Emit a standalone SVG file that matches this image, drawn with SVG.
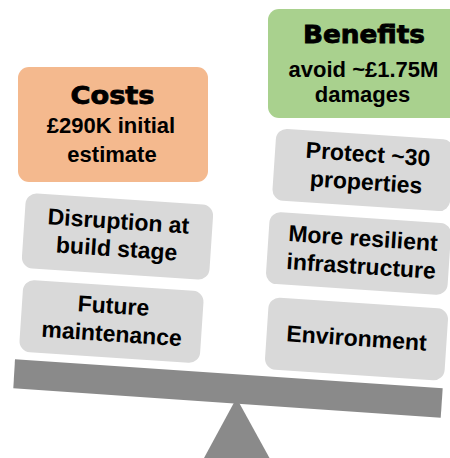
<svg xmlns="http://www.w3.org/2000/svg" width="450" height="458" viewBox="0 0 450 458">
  <style>
    .item { fill: #d9d9d9; }
    .t { font-family: "Liberation Sans", Arial, sans-serif; font-weight: bold; fill: #000; text-anchor: middle; }
    .it { font-size: 23px; }
    .sub { font-size: 22px; }
    .head { font-family: "DejaVu Sans", "Liberation Sans", sans-serif; font-weight: bold; font-size: 24px; fill: #000; stroke: #000; stroke-width: 0.8; text-anchor: middle; }
  </style>
  <rect width="450" height="458" fill="#ffffff"/>

  <g id="scale">
    <polygon points="236.5,398 204,458 269.5,458" fill="#8a8a8a"/>
    <polygon points="15,359.3 442.7,388.3 440.7,417.7 13.3,388.3" fill="#8a8a8a"/>
  </g>

  <g id="costs">
    <rect x="18" y="67" width="190" height="115" rx="11" fill="#f4b98e"/>
    <text class="head" x="112.5" y="104" textLength="84" lengthAdjust="spacingAndGlyphs">Costs</text>
    <text class="t sub" x="111" y="133">£290K initial</text>
    <text class="t sub" x="112" y="162">estimate</text>
  </g>

  <g id="benefits">
    <rect x="268" y="9" width="192" height="109" rx="11" fill="#a9d18e"/>
    <text class="head" x="364" y="43" textLength="122" lengthAdjust="spacingAndGlyphs">Benefits</text>
    <text class="t sub" x="363.5" y="77">avoid ~£1.75M</text>
    <text class="t sub" x="362.5" y="102">damages</text>
  </g>

  <g id="disruption" transform="translate(117.5,236.5) rotate(3.8)">
    <rect class="item" x="-94" y="-37.5" width="188" height="75" rx="11"/>
    <text class="t it" x="0" y="-7.5">Disruption at</text>
    <text class="t it" x="0" y="20">build stage</text>
  </g>

  <g id="maintenance" transform="translate(111.5,321.5) rotate(3.8)">
    <rect class="item" x="-90.5" y="-36" width="181" height="72" rx="11"/>
    <text class="t it" x="1" y="-8">Future</text>
    <text class="t it" x="1" y="20">maintenance</text>
  </g>

  <g id="protect" transform="translate(363,170) rotate(3.8)">
    <rect class="item" x="-89" y="-36" width="178" height="72" rx="11"/>
    <text class="t it" x="4" y="-8.3">Protect ~30</text>
    <text class="t it" x="4" y="19.7">properties</text>
  </g>

  <g id="infrastructure" transform="translate(358.5,253.5) rotate(3.8)">
    <rect class="item" x="-91" y="-36" width="182" height="72" rx="11"/>
    <text class="t it" x="3.5" y="-7.7">More resilient</text>
    <text class="t it" x="3.5" y="20.3">infrastructure</text>
  </g>

  <g id="environment" transform="translate(356.5,339) rotate(3.8)">
    <rect class="item" x="-90" y="-36" width="180" height="72" rx="11"/>
    <text class="t it" x="0" y="7">Environment</text>
  </g>
</svg>
